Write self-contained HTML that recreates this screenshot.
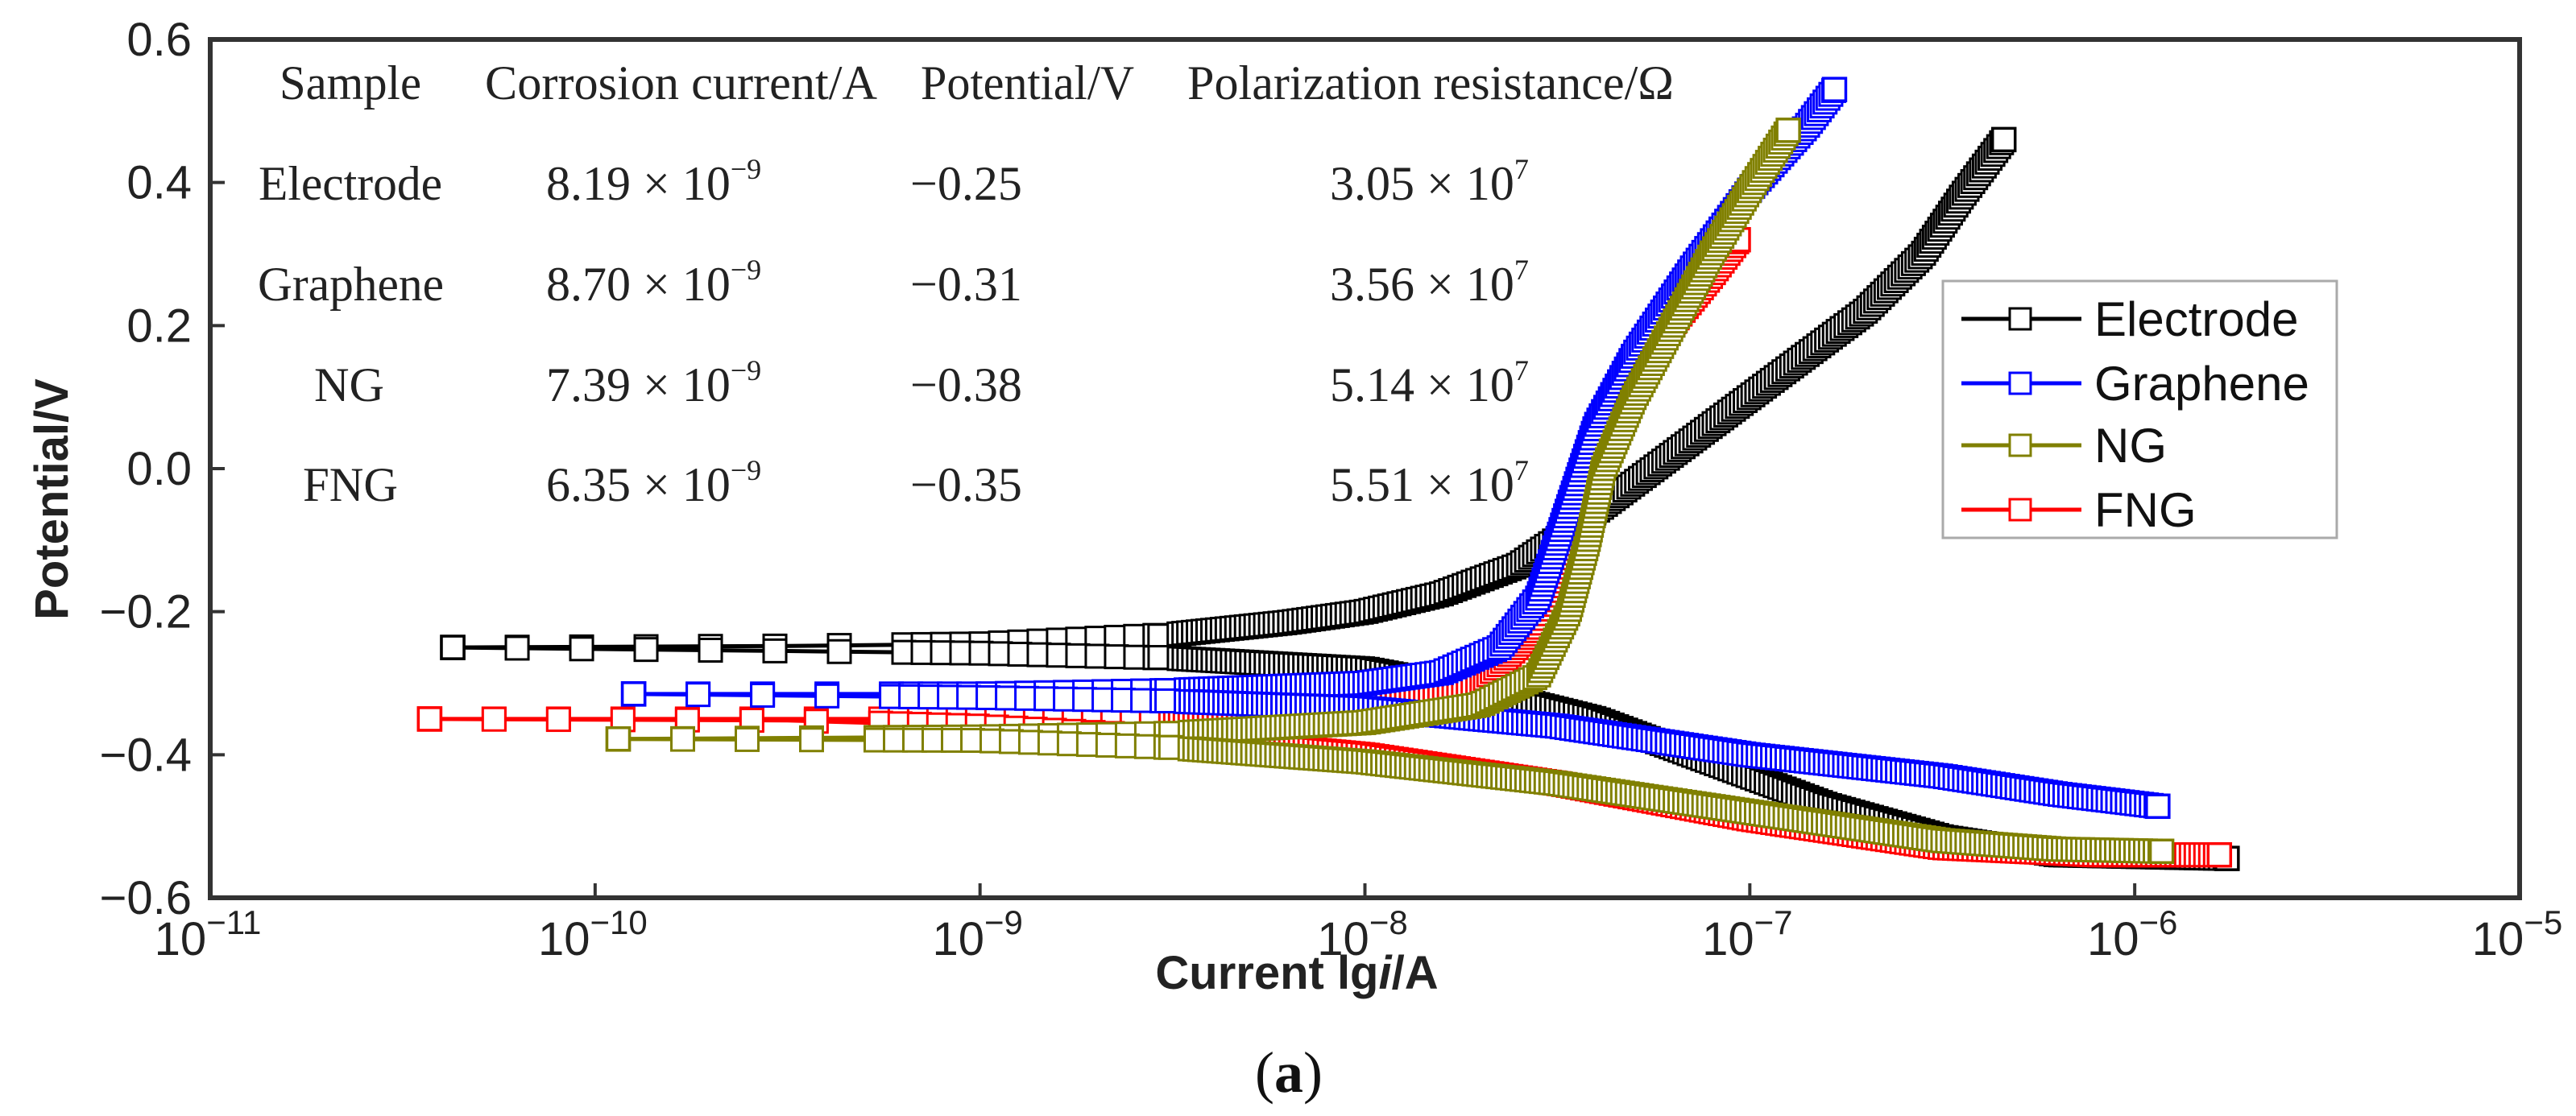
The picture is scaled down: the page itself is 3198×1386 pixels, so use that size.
<!DOCTYPE html>
<html><head><meta charset="utf-8"><style>
html,body{margin:0;padding:0;background:#fff;}
svg{display:block;}
</style></head><body>
<svg id="chart" width="3198" height="1386" viewBox="0 0 3198 1386" xmlns="http://www.w3.org/2000/svg">
<g id="series-layer"></g>
<rect x="261" y="49" width="2867" height="1066" fill="none" stroke="#333" stroke-width="6"/>
<g id="axes"></g>
<g font-family="'Liberation Serif', serif" font-size="60" fill="#222">
 <text x="347" y="123" textLength="176" lengthAdjust="spacingAndGlyphs">Sample</text>
 <text x="602" y="123" textLength="487" lengthAdjust="spacingAndGlyphs">Corrosion current/A</text>
 <text x="1143" y="123" textLength="265" lengthAdjust="spacingAndGlyphs">Potential/V</text>
 <text x="1474" y="123" textLength="604" lengthAdjust="spacingAndGlyphs">Polarization resistance/Ω</text>
 <text x="321" y="248" textLength="228" lengthAdjust="spacingAndGlyphs">Electrode</text>
 <text x="320" y="373" textLength="231" lengthAdjust="spacingAndGlyphs">Graphene</text>
 <text x="390" y="498" textLength="87" lengthAdjust="spacingAndGlyphs">NG</text>
 <text x="376" y="622" textLength="118" lengthAdjust="spacingAndGlyphs">FNG</text>
 <text x="678" y="248">8.19 × 10<tspan font-size="36" dy="-26">−9</tspan></text>
 <text x="678" y="373">8.70 × 10<tspan font-size="36" dy="-26">−9</tspan></text>
 <text x="678" y="498">7.39 × 10<tspan font-size="36" dy="-26">−9</tspan></text>
 <text x="678" y="622">6.35 × 10<tspan font-size="36" dy="-26">−9</tspan></text>
 <text x="1130" y="248">−0.25</text>
 <text x="1130" y="373">−0.31</text>
 <text x="1130" y="498">−0.38</text>
 <text x="1130" y="622">−0.35</text>
 <text x="1651" y="248">3.05 × 10<tspan font-size="36" dy="-26">7</tspan></text>
 <text x="1651" y="373">3.56 × 10<tspan font-size="36" dy="-26">7</tspan></text>
 <text x="1651" y="498">5.14 × 10<tspan font-size="36" dy="-26">7</tspan></text>
 <text x="1651" y="622">5.51 × 10<tspan font-size="36" dy="-26">7</tspan></text>
</g>
<g>
 <rect x="2412" y="349" width="489" height="319" fill="#fff" stroke="#aaa" stroke-width="3"/>
 <g id="legend-entries"></g>
</g>
<text x="1610" y="1228" text-anchor="middle" font-family="'Liberation Sans', sans-serif" font-weight="bold" font-size="58" fill="#222">Current lg<tspan font-style="italic">i</tspan>/A</text>
<text transform="translate(84,620) rotate(-90)" text-anchor="middle" font-family="'Liberation Sans', sans-serif" font-weight="bold" font-size="58" fill="#222">Potential/V</text>
<text x="1600" y="1356" text-anchor="middle" font-family="'Liberation Serif', serif" font-size="72" fill="#111">(<tspan font-weight="bold">a</tspan>)</text>
</svg>
<script>
const xTickExps = [-11, -10, -9, -8, -7, -6, -5];
const yTickValues = [0.6, 0.4, 0.2, 0.0, -0.2, -0.4, -0.6];
const yTickLabels = ["0.6", "0.4", "0.2", "0.0", "−0.2", "−0.4", "−0.6"];
const seriesNames = ["Electrode", "FNG", "Graphene", "NG"];
const legendOrder = ["Electrode", "Graphene", "NG", "FNG"];
const seriesColors = {Electrode: "#000000", Graphene: "#0000ff", NG: "#808000", FNG: "#ff0000"};
// log10(current) and potential pairs
const electrodeAnodicLogI = [-10.37,-9.5,-9,-8.5,-8.2,-8,-7.8,-7.6,-7.45,-7.3,-7.1,-6.9,-6.7,-6.55,-6.45,-6.34];
const electrodeAnodicE = [-0.25,-0.248,-0.245,-0.232,-0.215,-0.2,-0.175,-0.135,-0.08,-0.02,0.06,0.14,0.22,0.3,0.38,0.46];
const electrodeCathodicLogI = [-9.5,-9,-8.5,-8,-7.7,-7.4,-7.1,-6.8,-6.5,-6.2,-5.76];
const electrodeCathodicE = [-0.255,-0.258,-0.265,-0.28,-0.31,-0.35,-0.41,-0.47,-0.515,-0.54,-0.545];
const grapheneAnodicLogI = [-9.9,-9,-8.5,-8,-7.8,-7.65,-7.55,-7.5,-7.45,-7.4,-7.3,-7.15,-7,-6.85,-6.78];
const grapheneAnodicE = [-0.315,-0.315,-0.31,-0.3,-0.285,-0.25,-0.18,-0.1,-0.02,0.06,0.16,0.28,0.39,0.48,0.53];
const grapheneCathodicLogI = [-9,-8.5,-8,-7.5,-7,-6.5,-6.2,-5.94];
const grapheneCathodicE = [-0.32,-0.325,-0.335,-0.36,-0.4,-0.43,-0.455,-0.472];
const ngAnodicLogI = [-9.94,-9,-8.5,-8,-7.7,-7.55,-7.47,-7.42,-7.38,-7.3,-7.2,-7.1,-7,-6.9];
const ngAnodicE = [-0.378,-0.375,-0.37,-0.355,-0.33,-0.29,-0.2,-0.1,0,0.1,0.2,0.3,0.39,0.473];
const ngCathodicLogI = [-9,-8.5,-8,-7.5,-7,-6.5,-6.2,-5.93];
const ngCathodicE = [-0.38,-0.39,-0.41,-0.44,-0.48,-0.52,-0.532,-0.535];
const fngAnodicLogI = [-10.43,-9.5,-9,-8.5,-8,-7.7,-7.55,-7.5,-7.45,-7.35,-7.25,-7.1,-7.03];
const fngAnodicE = [-0.35,-0.35,-0.35,-0.345,-0.33,-0.3,-0.22,-0.12,-0.03,0.07,0.17,0.27,0.32];
const fngCathodicLogI = [-9.5,-9,-8.5,-8,-7.5,-7,-6.5,-6.1,-5.78];
const fngCathodicE = [-0.352,-0.36,-0.375,-0.4,-0.44,-0.49,-0.53,-0.54,-0.54];

const NS = "http://www.w3.org/2000/svg";
const X0 = 261, X1 = 3128, Y0 = 49, Y1 = 1115;
function xScale(l){ return X0 + (l + 11) / 6 * (X1 - X0); }
function yScale(v){ return Y0 + (0.6 - v) / 1.2 * (Y1 - Y0); }
function mk(tag, attrs){ const e = document.createElementNS(NS, tag); for (const k in attrs) e.setAttribute(k, attrs[k]); return e; }

const axes = document.getElementById('axes');
xTickExps.forEach(function(ex){
  const x = xScale(ex);
  if (ex > -11 && ex < -5) {
    const t = mk('line', {x1:x, y1:Y1, x2:x, y2:Y1-18, stroke:'#333', 'stroke-width':4});
    
    
    axes.appendChild(t);
  }
  const tx = mk('text', {x:x-3, y:1186, 'text-anchor':'middle', 'font-family':"'Liberation Sans', sans-serif", 'font-size':58, fill:'#222'});
  
  
  tx.textContent = '10';
  const sp = mk('tspan', {'font-size':42, dy:-26});
  sp.textContent = '−' + Math.abs(ex);
  tx.appendChild(sp);
  axes.appendChild(tx);
});
yTickValues.forEach(function(v, i){
  const y = yScale(v);
  if (i > 0 && i < yTickValues.length - 1) {
    const t = mk('line', {x1:X0, y1:y, x2:X0+18, y2:y, stroke:'#333', 'stroke-width':4});
    
    
    axes.appendChild(t);
  }
  const tx = mk('text', {x:238, y:y+20, 'text-anchor':'end', 'font-family':"'Liberation Sans', sans-serif", 'font-size':58, fill:'#222'});
  
  
  tx.textContent = yTickLabels[i];
  axes.appendChild(tx);
});

const seriesData = {
  Electrode: [[electrodeAnodicLogI, electrodeAnodicE], [[electrodeAnodicLogI[0]].concat(electrodeCathodicLogI), [electrodeAnodicE[0]].concat(electrodeCathodicE)]],
  Graphene: [[grapheneAnodicLogI, grapheneAnodicE], [[grapheneAnodicLogI[0]].concat(grapheneCathodicLogI), [grapheneAnodicE[0]].concat(grapheneCathodicE)]],
  NG: [[ngAnodicLogI, ngAnodicE], [[ngAnodicLogI[0]].concat(ngCathodicLogI), [ngAnodicE[0]].concat(ngCathodicE)]],
  FNG: [[fngAnodicLogI, fngAnodicE], [[fngAnodicLogI[0]].concat(fngCathodicLogI), [fngAnodicE[0]].concat(fngCathodicE)]]
};
const layer = document.getElementById('series-layer');
const S = 28;
seriesNames.forEach(function(name){
  const col = seriesColors[name];
  const g = mk('g', {});
  
  
  layer.appendChild(g);
  seriesData[name].forEach(function(branch){
    const pts = branch[0].map(function(l, i){ return [xScale(l), yScale(branch[1][i])]; });
    const line = mk('polyline', {points: pts.map(p => p.join(',')).join(' '), fill:'none', stroke:col, 'stroke-width':5, 'stroke-linejoin':'round'});
    
    
    g.appendChild(line);
    let acc = 0;
    for (let i = 1; i < pts.length; i++) {
      const a = pts[i-1], b = pts[i];
      const len = Math.hypot(b[0]-a[0], b[1]-a[1]);
      let t = 0;
      while (true) {
        const px = a[0] + (b[0]-a[0]) * t;
        const step = px < xScale(-9.3) ? 80 : (px < xScale(-8.5) ? 24 : 6);
        const rem = step - acc;
        if (t * len + rem > len) { acc += len - t * len; break; }
        t += rem / len; acc = 0;
        const qx = a[0] + (b[0]-a[0]) * t, qy = a[1] + (b[1]-a[1]) * t;
        const m = mk('rect', {x:qx-S/2, y:qy-S/2, width:S, height:S, fill:'#fff', stroke:col, 'stroke-width':3});
        
        
        g.appendChild(m);
      }
    }
    [pts[0], pts[pts.length-1]].forEach(function(p){
      const m = mk('rect', {x:p[0]-S/2, y:p[1]-S/2, width:S, height:S, fill:'#fff', stroke:col, 'stroke-width':3.5});
      
      
      g.appendChild(m);
    });
  });
});

const le = document.getElementById('legend-entries');
const legendY = [396, 476, 553, 633];
legendOrder.forEach(function(name, i){
  const y = legendY[i], col = seriesColors[name];
  const g = mk('g', {});
  
  
  g.appendChild(mk('line', {x1:2435, y1:y, x2:2584, y2:y, stroke:col, 'stroke-width':5}));
  g.appendChild(mk('rect', {x:2495, y:y-13, width:26, height:26, fill:'#fff', stroke:col, 'stroke-width':3}));
  const t = mk('text', {x:2600, y:y+21, 'font-family':"'Liberation Sans', sans-serif", 'font-size':60, fill:'#111'});
  t.textContent = name;
  g.appendChild(t);
  le.appendChild(g);
});
</script>
</body></html>
